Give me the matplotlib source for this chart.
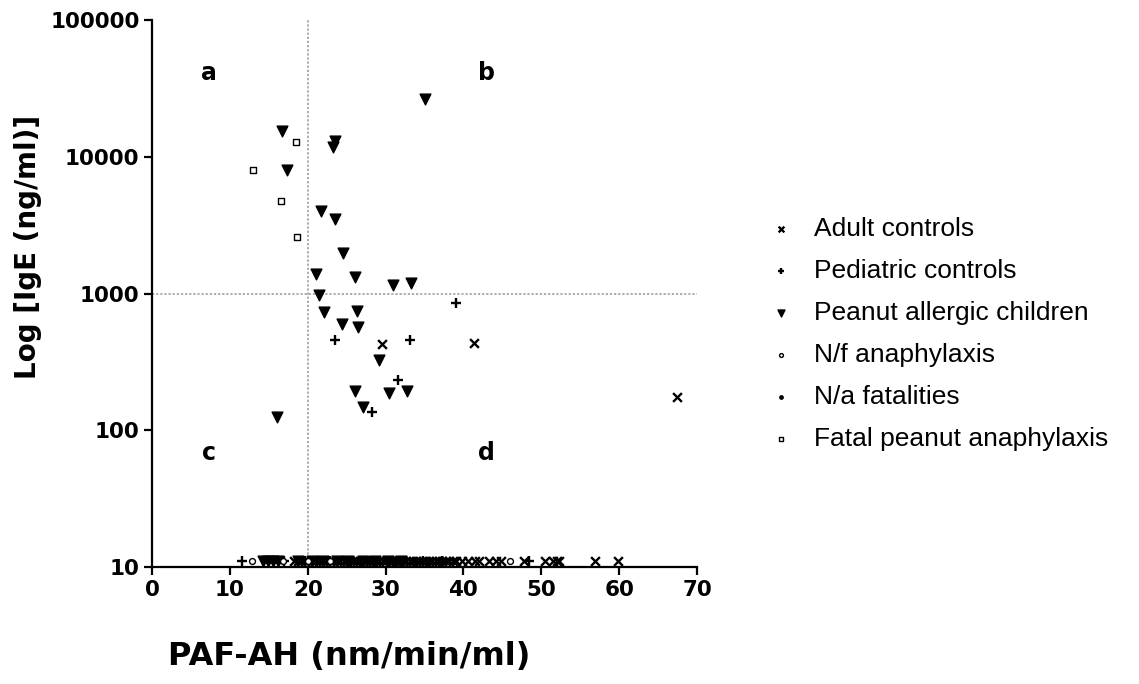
import numpy as np
import matplotlib
matplotlib.use('Agg')
import matplotlib.pyplot as plt

# ── Data ──────────────────────────────────────────────────────────────────────
BASE = 11  # undetectable IgE plotted just above the axis

adult_up_x = [29.5, 41.3, 67.4]
adult_up_y = [427, 435, 175]
adult_base_x = [18.2, 18.7, 19.2, 19.7, 20.1, 20.6, 21.0, 21.6, 22.0, 22.4, 22.9, 23.3,
                23.8, 24.1, 24.6, 25.0, 25.4, 25.8, 26.3, 26.7, 27.1, 27.5, 28.0, 28.4,
                28.8, 29.2, 29.7, 30.1, 30.6, 31.0, 31.4, 31.8, 32.2, 32.6, 33.1, 33.5,
                33.9, 34.3, 34.8, 35.2, 35.6, 36.0, 36.5, 36.9, 37.3, 37.7, 38.2, 38.6,
                39.1, 39.8, 40.6, 41.5, 42.0, 43.3, 44.2, 44.8, 47.8, 50.5, 51.5,
                52.0, 52.3, 56.9, 59.8]
adult_x = adult_up_x + adult_base_x
adult_y = adult_up_y + [BASE] * len(adult_base_x)

ped_x = [23.5, 33.1, 39.0, 31.6, 28.3,
         11.5, 16.9, 19.6, 22.8, 25.4, 28.0, 31.4, 34.8, 37.3, 48.4]
ped_y = [457, 459, 857, 233, 136] + [BASE] * 10

peanut_x = [35.1, 16.7, 23.5, 23.2, 17.3, 21.7, 23.5, 24.5, 21.1, 26.1, 30.9, 33.3,
            21.4, 22.1, 26.3, 24.4, 26.5, 29.1, 26.1, 30.4, 32.8, 27.1, 16.1,
            14.3, 14.9, 15.6, 16.2, 18.8, 20.5, 21.9, 23.7, 25.2, 27.1, 28.6, 30.3, 32.0]
peanut_y = [26400, 15500, 13000, 11850, 8000, 4010, 3520, 1980, 1390, 1330, 1150, 1190,
            975, 736, 748, 598, 569, 325, 193, 187, 195, 149, 126] + [BASE] * 13

nf_x = [12.8, 16.8, 20.0, 22.9, 46.0]
nf_y = [BASE] * 5

na_x = [21.2, 26.3, 33.8]
na_y = [BASE] * 3

fatal_x = [18.5, 13.0, 16.6, 18.6]
fatal_y = [12800, 7960, 4770, 2590]

x_ticks = [0, 10, 20, 30, 40, 50, 60, 70]
y_ticks = [10, 100, 1000, 10000, 100000]
x_cut, y_cut = 20, 1000

quadrants = [('a', 7.3, 40900), ('b', 43.0, 40900), ('c', 7.3, 68), ('d', 43.0, 68)]

# ── Figure ────────────────────────────────────────────────────────────────────
fig = plt.figure(figsize=(11.39, 6.84), dpi=100)
ax = fig.add_axes([152/1139, 1 - 567/684, 545/1139, 547/684])

ax.set_yscale('log')
ax.set_xlim(0, 70)
ax.set_ylim(10, 100000)

ax.axvline(x_cut, color='#999999', linestyle=(0, (1.5, 1.2)), linewidth=1.1, zorder=1)
ax.axhline(y_cut, color='#999999', linestyle=(0, (1.5, 1.2)), linewidth=1.1, zorder=1)

kw = dict(clip_on=False, zorder=3)
ax.scatter(adult_x, adult_y, marker='x', s=40, color='black', linewidths=1.7,
           label='Adult controls', **kw)
ax.scatter(ped_x, ped_y, marker='+', s=42, color='black', linewidths=1.7,
           label='Pediatric controls', **kw)
ax.scatter(peanut_x, peanut_y, marker='v', s=60, color='black',
           label='Peanut allergic children', **kw)
ax.scatter(nf_x, nf_y, marker='o', s=18, facecolors='white', edgecolors='black',
           linewidths=1, label='N/f anaphylaxis', **kw)
ax.scatter(na_x, na_y, marker='o', s=14, color='black', label='N/a fatalities', **kw)
ax.scatter(fatal_x, fatal_y, marker='s', s=24, facecolors='white', edgecolors='black',
           linewidths=1, label='Fatal peanut anaphylaxis', **kw)

for txt, qx, qy in quadrants:
    ax.text(qx, qy, txt, fontsize=17, fontweight='bold', ha='center', va='center')

for side in ['top', 'right']:
    ax.spines[side].set_visible(False)
for side in ['left', 'bottom']:
    ax.spines[side].set_linewidth(1.6)

ax.set_xticks(x_ticks)
ax.set_yticks(y_ticks)
ax.set_yticklabels([str(v) for v in y_ticks])
ax.minorticks_off()
ax.tick_params(axis='both', length=6, width=1.6, labelsize=15.5, pad=3)
for lab in ax.get_xticklabels() + ax.get_yticklabels():
    lab.set_fontweight('bold')

fig.text(349/1139, 1 - 657/684, 'PAF-AH (nm/min/ml)', fontsize=23, fontweight='bold',
         ha='center', va='center')
fig.text(28/1139, 1 - 247/684, 'Log [IgE (ng/ml)]', fontsize=20, fontweight='bold',
         ha='center', va='center', rotation=90)

leg = ax.legend(loc='upper left', bbox_to_anchor=(752/1139, 1 - 204/684),
                bbox_transform=fig.transFigure, frameon=False,
                prop={'family': 'Liberation Sans', 'size': 19},
                markerscale=0.65, handlelength=1.2, handletextpad=0.65,
                labelspacing=0.68, borderpad=0)

fig.savefig('out.png', dpi=100)
